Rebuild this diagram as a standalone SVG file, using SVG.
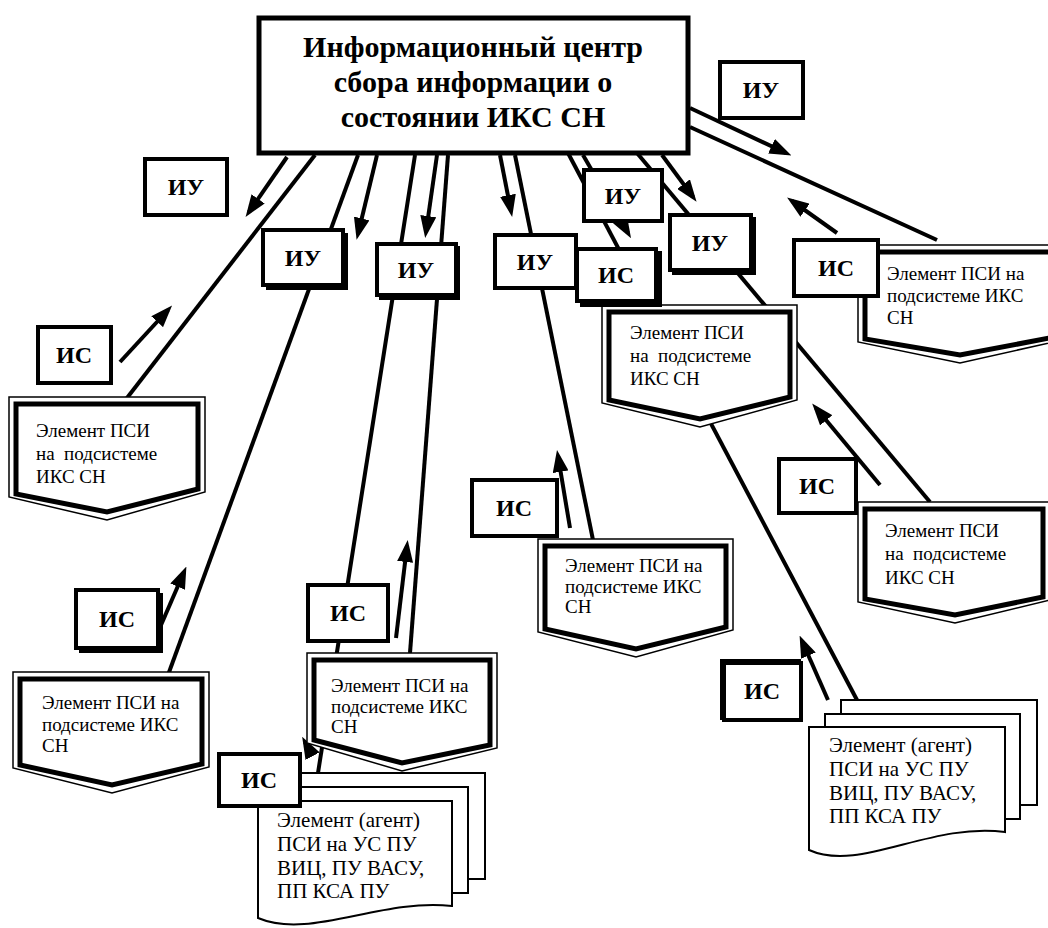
<svg xmlns="http://www.w3.org/2000/svg" width="1048" height="928" viewBox="0 0 1048 928">
<style>
.ln{stroke:#000;stroke-width:4;fill:none}
.ar{stroke:#000;stroke-width:4;fill:none;marker-end:url(#ah)}
.box{fill:#fff;stroke:#000;stroke-width:4}
.sh{fill:#000}
.lbl{font-weight:bold;font-size:24px;text-anchor:middle;fill:#000}
.title{font-weight:bold;font-size:30px;text-anchor:middle;fill:#000}
.po{fill:#fff;stroke:#000;stroke-width:1.5}
.pi{fill:#fff;stroke:#000;stroke-width:5;stroke-linejoin:miter}
.pt{font-size:19px;fill:#000;white-space:pre}
.pg{fill:#fff;stroke:#000;stroke-width:2}
.at{font-size:21px;fill:#000}
</style>
<defs>
<marker id="ah" markerWidth="22" markerHeight="16" refX="16" refY="8" orient="auto" markerUnits="userSpaceOnUse"><path d="M0,0 L22,8 L0,16 z" fill="#000"/></marker>
</defs>
<rect width="1048" height="928" fill="#fff"/>

<g id="connectors">
<line class="ln" x1="315" y1="155" x2="120" y2="407"/>
<line class="ln" x1="358" y1="155" x2="168" y2="675"/>
<line class="ln" x1="415" y1="155" x2="318" y2="773"/>
<line class="ln" x1="448" y1="155" x2="410" y2="653"/>
<line class="ln" x1="515" y1="155" x2="593" y2="540"/>
<line class="ln" x1="568" y1="153" x2="857" y2="700"/>
<line class="ln" x1="637" y1="153" x2="930" y2="502"/>
<line class="ln" x1="690" y1="127" x2="937" y2="240"/>
<line class="ar" x1="287" y1="157" x2="249" y2="212"/>
<line class="ar" x1="377" y1="155" x2="358" y2="234"/>
<line class="ar" x1="437" y1="155" x2="426" y2="232"/>
<line class="ar" x1="500" y1="155" x2="511" y2="211"/>
<line class="ar" x1="583" y1="155" x2="628" y2="233"/>
<line class="ar" x1="662" y1="155" x2="693" y2="197"/>
<line class="ar" x1="690" y1="108" x2="786" y2="153"/>
<line class="ar" x1="120" y1="362" x2="168" y2="310"/>
<line class="ar" x1="158" y1="632" x2="184" y2="572"/>
<line class="ar" x1="396" y1="638" x2="407" y2="546"/>
<line class="ar" x1="570" y1="528" x2="558" y2="456"/>
<line class="ar" x1="837" y1="233" x2="792" y2="201"/>
<line class="ar" x1="880" y1="485" x2="816" y2="408"/>
<line class="ar" x1="828" y1="700" x2="802" y2="641"/>
<line class="ar" x1="312" y1="755" x2="305" y2="742"/>
</g>

<g font-family="Liberation Serif, serif">
<g id="center">
<rect class="box" x="259" y="18" width="429" height="135" style="stroke-width:5"/>
<text class="title" x="473" y="57">Информационный центр</text>
<text class="title" x="473" y="92">сбора информации о</text>
<text class="title" x="473" y="127">состоянии ИКС СН</text>
</g>

<g id="psi1">
<polygon class="po" points="9,397 205,397 205,492 107,520 9,497"/>
<polygon class="pi" points="16,404 198,404 198,489 107,512 16,494"/>
<text class="pt" x="36" y="437">Элемент ПСИ</text>
<text class="pt" x="36" y="460">на  подсистеме</text>
<text class="pt" x="36" y="483">ИКС СН</text>
</g>
<g id="psi2">
<polygon class="po" points="13,672 209,672 209,767 112,793 13,768"/>
<polygon class="pi" points="20,679 202,679 202,764 112,785 20,765"/>
<text class="pt" x="42" y="709">Элемент ПСИ на</text>
<text class="pt" x="42" y="731">подсистеме ИКС</text>
<text class="pt" x="42" y="752">СН</text>
</g>
<g id="agent1">
<rect class="pg" x="290" y="773" width="195" height="106"/>
<rect class="pg" x="274" y="787" width="194" height="106"/>
<path class="pg" d="M258,801 H452 V906 C380,898 310,940 258,918 Z"/>
<text class="at" x="277" y="827">Элемент (агент)</text>
<text class="at" x="277" y="851">ПСИ на УС ПУ</text>
<text class="at" x="277" y="875">ВИЦ, ПУ ВАСУ,</text>
<text class="at" x="277" y="898">ПП КСА ПУ</text>
</g>
<g id="psi3">
<polygon class="po" points="307,653 497,653 497,748 402,771 307,743"/>
<polygon class="pi" points="314,660 490,660 490,745 402,763 314,740"/>
<text class="pt" x="331" y="692">Элемент ПСИ на</text>
<text class="pt" x="331" y="713">подсистеме ИКС</text>
<text class="pt" x="331" y="733">СН</text>
</g>
<g id="psi4">
<polygon class="po" points="538,539 733,539 733,630 636,657 538,632"/>
<polygon class="pi" points="545,546 726,546 726,627 636,649 545,629"/>
<text class="pt" x="565" y="572">Элемент ПСИ на</text>
<text class="pt" x="565" y="593">подсистеме ИКС</text>
<text class="pt" x="565" y="613">СН</text>
</g>
<g id="psi5">
<polygon class="po" points="602,305 797,305 797,400 700,427 602,403"/>
<polygon class="pi" points="609,312 790,312 790,397 700,419 609,400"/>
<text class="pt" x="630" y="339">Элемент ПСИ</text>
<text class="pt" x="630" y="362">на  подсистеме</text>
<text class="pt" x="630" y="385">ИКС СН</text>
</g>
<g id="psi6">
<polygon class="po" points="858,245 1062,245 1062,340 960,363 858,342"/>
<polygon class="pi" points="865,252 1055,252 1055,337 960,355 865,339"/>
<text class="pt" x="887" y="280">Элемент ПСИ на</text>
<text class="pt" x="887" y="302">подсистеме ИКС</text>
<text class="pt" x="887" y="324">СН</text>
</g>
<g id="psi7">
<polygon class="po" points="858,502 1050,502 1050,600 955,623 858,602"/>
<polygon class="pi" points="865,509 1043,509 1043,597 955,615 865,599"/>
<text class="pt" x="885" y="537">Элемент ПСИ</text>
<text class="pt" x="885" y="560">на  подсистеме</text>
<text class="pt" x="885" y="584">ИКС СН</text>
</g>
<g id="agent2">
<rect class="pg" x="841" y="700" width="196" height="105"/>
<rect class="pg" x="825" y="714" width="195" height="105"/>
<path class="pg" d="M809,727 H1005 V832 C930,822 860,873 809,850 Z"/>
<text class="at" x="829" y="752">Элемент (агент)</text>
<text class="at" x="829" y="776">ПСИ на УС ПУ</text>
<text class="at" x="829" y="800">ВИЦ, ПУ ВАСУ,</text>
<text class="at" x="829" y="823">ПП КСА ПУ</text>
</g>

<g id="iu1"><rect class="box" x="145" y="159" width="82" height="56"/><text class="lbl" x="186" y="195">ИУ</text></g>
<g id="iu2"><rect class="sh" x="266" y="233" width="82" height="57"/><rect class="box" x="263" y="230" width="80" height="55"/><text class="lbl" x="303" y="266">ИУ</text></g>
<g id="iu3"><rect class="sh" x="379" y="246" width="81" height="54"/><rect class="box" x="377" y="244" width="79" height="51"/><text class="lbl" x="416" y="278">ИУ</text></g>
<g id="iu4"><rect class="box" x="495" y="235" width="81" height="53"/><text class="lbl" x="535" y="270">ИУ</text></g>
<g id="iu5"><rect class="box" x="584" y="170" width="78" height="51"/><text class="lbl" x="623" y="204">ИУ</text></g>
<g id="iu6"><rect class="sh" x="672" y="217" width="84" height="58"/><rect class="box" x="670" y="215" width="81" height="55"/><text class="lbl" x="710" y="251">ИУ</text></g>
<g id="iu7"><rect class="box" x="720" y="62" width="83" height="56"/><text class="lbl" x="761" y="98">ИУ</text></g>

<g id="is1"><rect class="box" x="38" y="327" width="73" height="56"/><text class="lbl" x="74" y="363">ИС</text></g>
<g id="is2"><rect class="sh" x="79" y="593" width="84" height="60"/><rect class="box" x="76" y="590" width="82" height="58"/><text class="lbl" x="117" y="627">ИС</text></g>
<g id="is3"><rect class="box" x="308" y="585" width="80" height="56"/><text class="lbl" x="348" y="621">ИС</text></g>
<g id="is4"><rect class="box" x="219" y="754" width="81" height="52"/><text class="lbl" x="259" y="788">ИС</text></g>
<g id="is5"><rect class="box" x="472" y="480" width="85" height="56"/><text class="lbl" x="514" y="516">ИС</text></g>
<g id="is6"><rect class="sh" x="580" y="251" width="82" height="56"/><rect class="box" x="577" y="249" width="79" height="52"/><text class="lbl" x="616" y="283">ИС</text></g>
<g id="is7"><rect class="box" x="794" y="240" width="84" height="56"/><text class="lbl" x="836" y="276">ИС</text></g>
<g id="is8"><rect class="box" x="779" y="459" width="77" height="54"/><text class="lbl" x="817" y="494">ИС</text></g>
<g id="is9"><rect class="sh" x="720" y="659" width="81" height="61"/><rect class="box" x="724" y="663" width="77" height="57"/><text class="lbl" x="762" y="699">ИС</text></g>
</g>
</svg>
